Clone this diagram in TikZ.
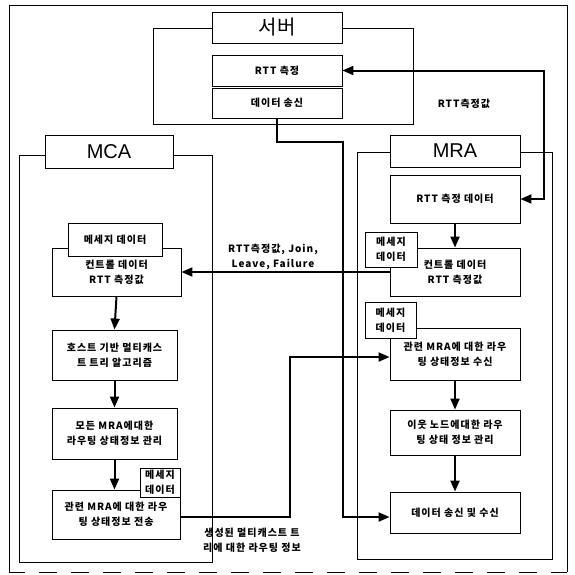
\documentclass[tikz,border=0pt]{standalone}
\usepackage{fontspec}
\setmainfont{Noto Sans CJK KR}
\newfontfamily\latin{Liberation Sans}
\usetikzlibrary{arrows.meta}
\newcommand\boxfont{\bfseries\fontsize{10}{15}\selectfont\addfontfeatures{LetterSpace=10}}
\tikzset{
  frameline/.style={line width=0.9pt},
  container/.style={draw, line width=0.9pt, fill=white, inner sep=0pt},
  titlebox/.style={draw, line width=0.9pt, fill=white, inner sep=0pt},
  boxnode/.style={draw, line width=0.9pt, fill=white, inner sep=0pt, align=center,
    font=\boxfont},
  lbl/.style={inner sep=0pt, align=center, font=\boxfont},
  flow/.style={line width=2pt, -{Triangle[length=11pt,width=9pt]}},
  flowboth/.style={line width=2pt, {Triangle[length=11pt,width=9pt]}-{Triangle[length=11pt,width=9pt]}},
}
\begin{document}
\begin{tikzpicture}[x=1pt,y=-1pt]
\useasboundingbox (0,0) rectangle (575,574);
% outer frame
\coordinate (oa) at (9,572);
\coordinate (ob) at (9,5);
\coordinate (oc) at (567,5);
\coordinate (od) at (567,572);
\draw[frameline] (oa) -- (ob) -- (oc) -- (od);
\draw[frameline, dash pattern=on 18pt off 14pt, dash phase=-30pt] (oa) -- (od);

% server
\node[container, minimum width=260, minimum height=96] (server) at (283,76) {};
\node[titlebox, minimum width=130, minimum height=31, font=\fontsize{20}{22}\selectfont] (servertitle) at (277,27.5) {서버};
\node[boxnode, minimum width=130, minimum height=31] (srtt) at (277,70.5) {RTT 측정};
\node[boxnode, minimum width=130, minimum height=30] (ssend) at (277,103) {데이터 송신};

% MCA
\node[container, minimum width=193, minimum height=407] (mca) at (115.5,358.5) {};
\node[titlebox, minimum width=128, minimum height=33, font=\latin\fontsize{20}{22}\selectfont] (mcatitle) at (109,151.5) {MCA};
\node[boxnode, minimum width=129, minimum height=48] (mcactl) at (116.5,272) {컨트롤 데이터\\RTT 측정값};
\node[boxnode, minimum width=94, minimum height=33] (mcamsg1) at (115,239.5) {메세지 데이터};
\node[boxnode, minimum width=125, minimum height=50] (mcaalg) at (114.5,355) {호스트 기반 멀티캐스\\트 트리 알고리즘};
\node[boxnode, minimum width=125, minimum height=51] (mcamgmt) at (114.5,433.5) {모든 MRA에대한\\라우팅 상태정보 관리};
\node[boxnode, minimum width=128, minimum height=49] (mcasend) at (116,514.5) {관련 MRA에 대한 라우\\팅 상태정보 전송};
\node[boxnode, minimum width=40, minimum height=29] (mcamsg2) at (160,482.5) {메세지\\데이터};

% MRA
\node[container, minimum width=195, minimum height=407] (mra) at (454.5,355.5) {};
\node[titlebox, minimum width=130, minimum height=32, font=\latin\fontsize{20}{22}\selectfont] (mratitle) at (455,151) {MRA};
\node[boxnode, minimum width=130, minimum height=48] (mrartt) at (455,199) {RTT 측정 데이터};
\node[boxnode, minimum width=130, minimum height=48] (mractl) at (455,272) {컨트롤 데이터\\RTT 측정값};
\node[boxnode, minimum width=52, minimum height=35] (mramsg1) at (391,249.5) {메세지\\데이터};
\node[boxnode, minimum width=130, minimum height=52] (mrarecv) at (455,354) {관련 MRA에 대한 라우\\팅 상태정보 수신};
\node[boxnode, minimum width=51, minimum height=36] (mramsg2) at (390.5,320) {메세지\\데이터};
\node[boxnode, minimum width=130, minimum height=45] (mramgmt) at (455,432.5) {이웃 노드에대한 라우\\팅 상태 정보 관리};
\node[boxnode, minimum width=130, minimum height=41] (mradata) at (455,512.5) {데이터 송신 및 수신};

% labels
\node[lbl] (rttlabel) at (464,104) {RTT측정값};
\node[lbl] (ctllabel) at (273,256.5) {RTT측정값, Join,\\Leave, Failure};
\node[lbl] (routelabel) at (252,540) {생성된 멀티캐스트 트\\리에 대한 라우팅 정보};

% vertical flows
\draw[flow] (mcactl.south) -- (mcaalg.north);
\draw[flow] (mcaalg.south) -- (mcamgmt.north);
\draw[flow] (mcamgmt.south) -- (mcamgmt.south |- mcasend.north);
\draw[flow] (mrartt.south) -- (mractl.north);
\draw[flow] (mrarecv.south) -- (mramgmt.north);
\draw[flow] (mramgmt.south) -- (mradata.north);

% RTT exchange
\coordinate (rb1) at (544,70.5);
\coordinate (rb2) at (544,199);
\draw[flowboth] (srtt.east) -- (rb1) -- (rb2) -- (mrartt.east);

% control data
\draw[flow] (mractl.west) -- (mcactl.east);

% data transmission
\coordinate (d1) at (343,142);
\coordinate (d2) at (343,517);
\draw[flow] (ssend.south) |- (d1) -- (d2) -- (d2 -| mradata.west);

% routing info
\coordinate (r1) at (290,517);
\coordinate (r2) at (290,357);
\draw[flow] (mcasend.east |- r1) -- (r1) -- (r2) -- (r2 -| mrarecv.west);
\end{tikzpicture}
\end{document}
